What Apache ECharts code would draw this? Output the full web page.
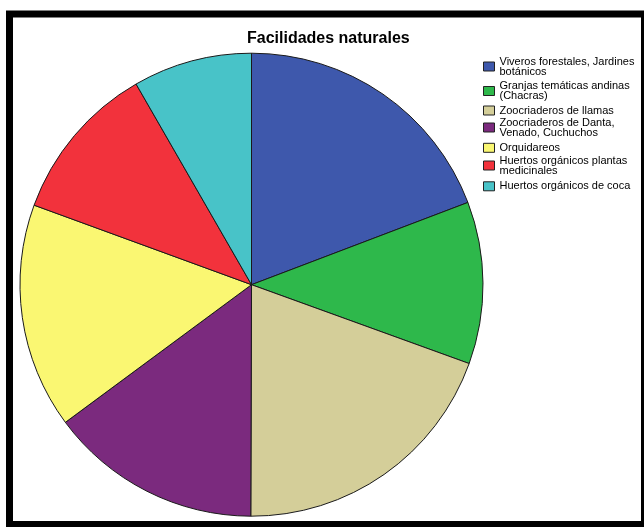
<!DOCTYPE html>
<html>
<head>
<meta charset="utf-8">
<script src="https://cdn.jsdelivr.net/npm/echarts@6/dist/echarts.min.js"></script>
<style>
html,body{margin:0;padding:0;background:#fff;}
#chart{width:644px;height:527px;}
</style>
</head>
<body>
<div id="chart"></div>
<script>
// Data
const titleText = 'Facilidades naturales';
const categories = [
  'Viveros forestales, Jardines\nbotánicos',
  'Granjas temáticas andinas\n(Chacras)',
  'Zoocriaderos de llamas',
  'Zoocriaderos de Danta,\nVenado, Cuchuchos',
  'Orquidareos',
  'Huertos orgánicos plantas\nmedicinales',
  'Huertos orgánicos de coca'
];
const values = [19.2, 11.3, 19.5, 14.8, 15.7, 11.1, 8.3];
const colors = ['#3E58AC', '#2EB84B', '#D4CE99', '#7B2A7E', '#FAF772', '#F2323C', '#48C3C8'];

// Layout (legend icon centre y positions)
const legendCenters = [66, 90.5, 110, 127, 147.3, 165, 185.8];

const chart = echarts.init(document.getElementById('chart'), null, {renderer: 'canvas'});
const FONT = '"Liberation Sans", Arial, sans-serif';
const LH = 10;

const legends = categories.map((c, i) => {
  const lines = c.split('\n').length;
  const h = Math.max(lines * LH, 9);
  return {
    orient: 'vertical',
    left: 483,
    top: legendCenters[i] - h / 2,
    padding: 0,
    itemWidth: 11,
    itemHeight: 9,
    itemGap: 0,
    icon: 'rect',
    selectedMode: false,
    itemStyle: {borderColor: '#222', borderWidth: 1},
    textStyle: {fontFamily: FONT, fontSize: 11, lineHeight: LH, color: '#000'},
    data: [c]
  };
});

chart.setOption({
  animation: false,
  backgroundColor: '#fff',
  color: colors,
  title: {
    text: titleText,
    left: 247,
    top: 31,
    padding: 0,
    textStyle: {fontFamily: FONT, fontSize: 16, fontWeight: 'bold', color: '#000'}
  },
  legend: legends,
  graphic: [{
    type: 'rect',
    silent: true,
    z: 100,
    shape: {x: 9.5, y: 14, width: 635, height: 510.5},
    style: {fill: 'none', stroke: '#000', lineWidth: 7}
  }],
  series: [{
    type: 'pie',
    center: [251.5, 284.7],
    radius: [0, 231.5],
    startAngle: 90,
    clockwise: true,
    label: {show: false},
    labelLine: {show: false},
    emphasis: {disabled: true},
    itemStyle: {borderColor: '#1a1a1a', borderWidth: 1},
    data: categories.map((c, i) => ({name: c, value: values[i]}))
  }]
});
</script>
</body>
</html>
